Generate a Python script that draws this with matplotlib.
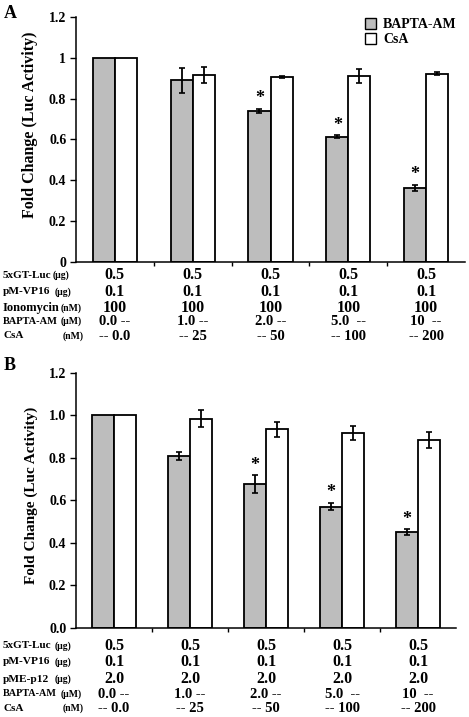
import matplotlib
matplotlib.use("Agg")
import matplotlib.pyplot as plt
from matplotlib.patches import Patch
from matplotlib.transforms import blended_transform_factory
import numpy as np

plt.rcParams['font.family'] = ['Liberation Serif', 'DejaVu Serif']
plt.rcParams['font.weight'] = 'bold'

# ---- data ----
series_names = ["BAPTA-AM", "CsA"]

A_bapta = [1.0, 0.89, 0.74, 0.613, 0.363]
A_bapta_err = [0.0, 0.06, 0.01, 0.008, 0.016]
A_csa = [1.0, 0.917, 0.906, 0.911, 0.922]
A_csa_err = [0.0, 0.038, 0.004, 0.035, 0.008]
A_sig = [False, False, True, True, True]

B_bapta = [1.0, 0.81, 0.677, 0.571, 0.451]
B_bapta_err = [0.0, 0.018, 0.042, 0.018, 0.013]
B_csa = [1.0, 0.983, 0.934, 0.917, 0.882]
B_csa_err = [0.0, 0.04, 0.035, 0.032, 0.038]
B_sig = [False, False, True, True, True]

A_yticks = [0, 0.2, 0.4, 0.6, 0.8, 1.0, 1.2]
A_yticklabels = ["0", "0.2", "0.4", "0.6", "0.8", "1", "1.2"]
B_yticks = [0, 0.2, 0.4, 0.6, 0.8, 1.0, 1.2]
B_yticklabels = ["0.0", "0.2", "0.4", "0.6", "0.8", "1.0", "1.2"]

A_row_names = ["5xGT-Luc", "pM-VP16", "Ionomycin", "BAPTA-AM", "CsA"]
A_row_units = ["(μg)", "(μg)", "(nM)", "(μM)", "(nM)"]
A_row_values = [
    ["0.5", "0.5", "0.5", "0.5", "0.5"],
    ["0.1", "0.1", "0.1", "0.1", "0.1"],
    ["100", "100", "100", "100", "100"],
    ["0.0 --", "1.0 --", "2.0 --", "5.0  --", "10  --"],
    ["-- 0.0", "-- 25", "-- 50", "-- 100", "-- 200"],
]

B_row_names = ["5xGT-Luc", "pM-VP16", "pME-p12", "BAPTA-AM", "CsA"]
B_row_units = ["(μg)", "(μg)", "(μg)", "(μM)", "(nM)"]
B_row_values = [
    ["0.5", "0.5", "0.5", "0.5", "0.5"],
    ["0.1", "0.1", "0.1", "0.1", "0.1"],
    ["2.0", "2.0", "2.0", "2.0", "2.0"],
    ["0.0 --", "1.0 --", "2.0 --", "5.0  --", "10  --"],
    ["-- 0.0", "-- 25", "-- 50", "-- 100", "-- 200"],
]

W, H = 469, 717
fig = plt.figure(figsize=(W / 100, H / 100), dpi=100)

GRAY = "#bdbdbd"


def fx(px):
    return px / W


def fy(py):
    return 1 - py / H


def panel(ax, bapta, bapta_err, csa, csa_err, sig, yticks, yticklabels,
          label_size, width):
    x = np.arange(len(bapta))
    ax.bar(x - width / 2, bapta, width, color=GRAY, edgecolor="black", lw=1.3, zorder=2)
    ax.bar(x + width / 2, csa, width, color="white", edgecolor="black", lw=1.3, zorder=2)
    for xi, v, e in zip(x, bapta, bapta_err):
        if e > 0:
            ax.errorbar(xi - width / 2, v, yerr=e, color="black", lw=1.3,
                        capsize=2.4, capthick=1.2, zorder=3)
    for xi, v, e in zip(x, csa, csa_err):
        if e > 0:
            ax.errorbar(xi + width / 2, v, yerr=e, color="black", lw=1.3,
                        capsize=2.4, capthick=1.2, zorder=3)
    for xi, v, e, s in zip(x, bapta, bapta_err, sig):
        if s:
            ax.annotate("*", (xi - width / 2, v + e), xytext=(0, 1),
                        textcoords="offset points", ha="center", va="bottom",
                        fontsize=13, fontweight="bold")
    ax.set_xlim(-0.5, len(bapta) - 0.5)
    ax.set_ylim(0, 1.2)
    ax.set_yticks(yticks)
    ax.set_yticklabels(yticklabels, fontsize=10, fontweight="bold")
    ax.set_xticks(np.arange(0.5, len(bapta) - 0.5, 1.0))
    ax.set_xticklabels([])
    ax.tick_params(axis="x", direction="out", length=3, width=1)
    ax.tick_params(axis="y", direction="out", length=4, width=1, pad=3)
    for sp in ["top", "right"]:
        ax.spines[sp].set_visible(False)
    for sp in ["left", "bottom"]:
        ax.spines[sp].set_linewidth(1.1)
    ax.set_ylabel("Fold Change (Luc Activity)", fontsize=label_size,
                  fontweight="bold")


def table(ax, names, units, unit_x, values, rows_y, name_sizes, value_sizes):
    tr = blended_transform_factory(ax.transData, fig.transFigure)
    for name, unit, ux, vals, ry, ns, vs in zip(names, units, unit_x, values,
                                                rows_y, name_sizes, value_sizes):
        fig.text(fx(3), fy(ry), name, fontsize=ns, fontweight="bold",
                 ha="left", va="center")
        fig.text(fx(ux), fy(ry), unit, fontsize=7, fontweight="bold",
                 ha="left", va="center")
        for i, v in enumerate(vals):
            ax.text(i, fy(ry), v, transform=tr, fontsize=vs, fontweight="bold",
                    ha="center", va="center")


# Panel A
axA = fig.add_axes([fx(76), fy(262), fx(465) - fx(76), fy(17) - fy(262)])
panel(axA, A_bapta, A_bapta_err, A_csa, A_csa_err, A_sig, A_yticks,
      A_yticklabels, 11.5, 0.283)
axA.yaxis.set_label_coords(-0.097, 0.56)
leg = axA.legend(handles=[Patch(facecolor=GRAY, edgecolor="black", label=series_names[0]),
                          Patch(facecolor="white", edgecolor="black", label=series_names[1])],
                 loc="upper right", bbox_to_anchor=(1.0, 1.03), frameon=False,
                 fontsize=10, handlelength=0.8, handleheight=0.8,
                 handletextpad=0.5, labelspacing=0.15, borderaxespad=0.2)
for t in leg.get_texts():
    t.set_fontweight("bold")
table(axA, A_row_names, A_row_units, [53, 55, 61, 61, 63], A_row_values,
      [275, 292, 308, 321.5, 336], [8, 8.2, 9, 7.5, 8],
      [11.5, 11.5, 11.5, 10.5, 10.5])
fig.text(fx(4), fy(13), "A", fontsize=13, fontweight="bold", ha="left", va="center")

# Panel B
axB = fig.add_axes([fx(76), fy(628), fx(456) - fx(76), fy(372.7) - fy(628)])
panel(axB, B_bapta, B_bapta_err, B_csa, B_csa_err, B_sig, B_yticks,
      B_yticklabels, 11, 0.29)
axB.yaxis.set_label_coords(-0.1, 0.52)
table(axB, B_row_names, B_row_units, [55, 55, 55, 61, 63], B_row_values,
      [646, 662, 679, 694, 708.5], [8, 8.2, 8.2, 7.3, 8],
      [11.5, 11.5, 11.5, 10.5, 10.5])
fig.text(fx(4), fy(366), "B", fontsize=13, fontweight="bold", ha="left", va="center")

fig.savefig("out.png", dpi=100)
